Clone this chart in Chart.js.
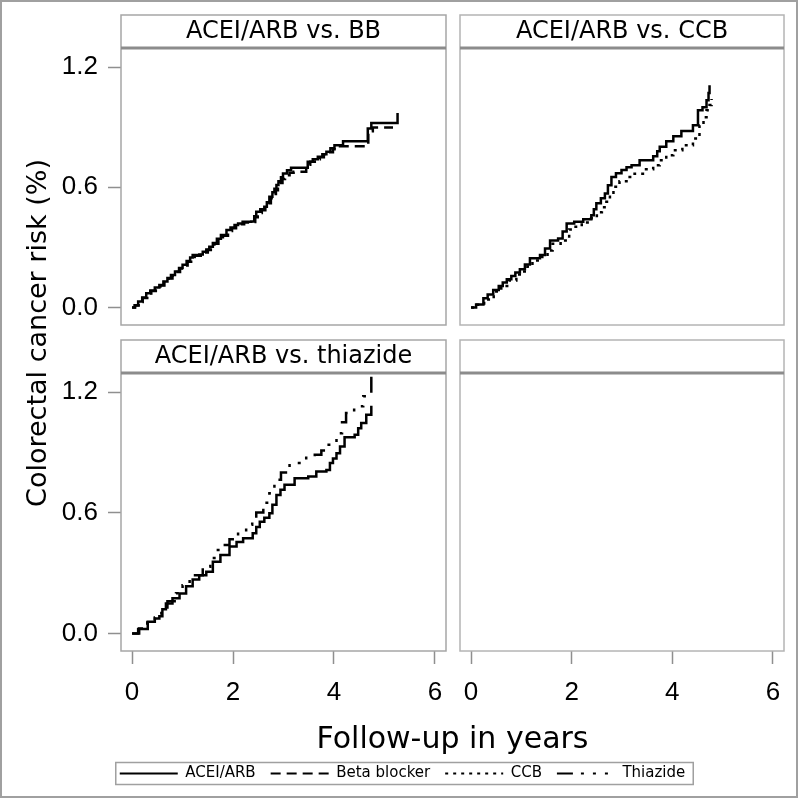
<!DOCTYPE html>
<html>
<head>
<meta charset="utf-8">
<script src="https://cdn.jsdelivr.net/npm/chart.js@4.4.1/dist/chart.umd.min.js"></script>
<style>
  html, body { margin: 0; padding: 0; background: #fff; }
  #wrap { position: relative; width: 800px; height: 800px; }
  canvas { position: absolute; }
</style>
</head>
<body>
<div id="wrap">
  <canvas id="frame" width="800" height="800" style="left:0;top:0"></canvas>
  <canvas id="p0" width="449" height="330" style="left:0;top:0"></canvas>
  <canvas id="p1" width="338" height="330" style="left:449px;top:0"></canvas>
  <canvas id="p2" width="449" height="390" style="left:0;top:330px"></canvas>
  <canvas id="p3" width="338" height="390" style="left:449px;top:330px"></canvas>
</div>
<script>
const FONT = 'DejaVu Sans';
const TICK_FONT = 'Liberation Sans';
Chart.defaults.font.family = FONT;
Chart.defaults.color = '#000';

const panelTitles = ['ACEI/ARB vs. BB', 'ACEI/ARB vs. CCB', 'ACEI/ARB vs. thiazide', ''];
const seriesNames = ['ACEI/ARB', 'Beta blocker', 'CCB', 'Thiazide'];
const seriesDash = [[], [10, 6], [3, 5], [16, 8, 3, 9, 3, 9, 3, 9]];
const xTicks = [0, 2, 4, 6];
const yTicks = [0, 0.6, 1.2];

// ACEI/ARB vs. BB
const bbArbT = [0, 0.05, 0.12, 0.2, 0.28, 0.36, 0.45, 0.54, 0.62, 0.7, 0.77, 0.85, 0.93, 1.0, 1.08, 1.15, 1.2, 1.33, 1.4, 1.47, 1.53, 1.6, 1.68, 1.76, 1.87, 1.95, 2.03, 2.1, 2.19, 2.36, 2.42, 2.46, 2.54, 2.62, 2.67, 2.72, 2.78, 2.82, 2.86, 2.9, 2.95, 2.99, 3.07, 3.15, 3.48, 3.58, 3.68, 3.77, 3.85, 3.93, 4.01, 4.18, 4.67, 4.74, 5.26];
const bbArbV = [0, 0.012, 0.03, 0.05, 0.072, 0.085, 0.1, 0.113, 0.13, 0.148, 0.163, 0.18, 0.198, 0.213, 0.232, 0.25, 0.262, 0.265, 0.278, 0.29, 0.304, 0.322, 0.343, 0.362, 0.387, 0.4, 0.412, 0.42, 0.428, 0.43, 0.455, 0.478, 0.49, 0.503, 0.525, 0.553, 0.575, 0.593, 0.611, 0.63, 0.65, 0.669, 0.685, 0.697, 0.727, 0.74, 0.752, 0.765, 0.777, 0.795, 0.81, 0.83, 0.893, 0.921, 0.971];
const bbT = [0, 0.06, 0.13, 0.21, 0.3, 0.38, 0.47, 0.56, 0.64, 0.72, 0.8, 0.88, 0.95, 1.03, 1.1, 1.17, 1.24, 1.36, 1.43, 1.5, 1.56, 1.63, 1.71, 1.8, 1.9, 1.98, 2.06, 2.14, 2.22, 2.38, 2.44, 2.49, 2.57, 2.64, 2.7, 2.75, 2.8, 2.85, 2.89, 2.93, 2.98, 3.03, 3.12, 3.2, 3.45, 3.53, 3.62, 3.72, 3.8, 3.9, 3.98, 4.08, 4.68, 4.77, 5.17];
const bbV = [0, 0.01, 0.028, 0.048, 0.07, 0.083, 0.098, 0.11, 0.127, 0.145, 0.16, 0.178, 0.195, 0.21, 0.228, 0.246, 0.258, 0.262, 0.275, 0.287, 0.3, 0.318, 0.338, 0.358, 0.382, 0.396, 0.408, 0.416, 0.424, 0.427, 0.45, 0.472, 0.485, 0.498, 0.52, 0.545, 0.567, 0.585, 0.603, 0.622, 0.642, 0.66, 0.672, 0.677, 0.712, 0.728, 0.74, 0.75, 0.762, 0.775, 0.79, 0.805, 0.88, 0.898, 0.898];

// ACEI/ARB vs. CCB
const ccbArbT = [0, 0.1, 0.245, 0.33, 0.44, 0.55, 0.63, 0.71, 0.8, 0.88, 0.97, 1.07, 1.17, 1.37, 1.47, 1.57, 1.73, 1.82, 1.9, 2.05, 2.23, 2.39, 2.44, 2.49, 2.58, 2.66, 2.72, 2.79, 2.88, 2.99, 3.09, 3.19, 3.35, 3.62, 3.7, 3.75, 3.88, 4.02, 4.18, 4.41, 4.51, 4.6, 4.68, 4.72, 4.74];
const ccbArbV = [0, 0.015, 0.046, 0.065, 0.088, 0.108, 0.125, 0.141, 0.158, 0.175, 0.191, 0.215, 0.246, 0.262, 0.295, 0.334, 0.345, 0.38, 0.42, 0.428, 0.44, 0.461, 0.49, 0.52, 0.545, 0.569, 0.61, 0.652, 0.67, 0.686, 0.7, 0.71, 0.735, 0.755, 0.78, 0.802, 0.83, 0.855, 0.881, 0.91, 0.984, 1.0, 1.034, 1.07, 1.109];
const ccbT = [0, 0.12, 0.26, 0.45, 0.6, 0.75, 0.9, 1.0, 1.12, 1.22, 1.4, 1.52, 1.62, 1.78, 1.95, 2.03, 2.2, 2.36, 2.5, 2.6, 2.69, 2.76, 2.83, 2.95, 3.09, 3.25, 3.45, 3.62, 3.75, 3.88, 4.02, 4.2, 4.41, 4.54, 4.62, 4.68, 4.74, 4.78];
const ccbV = [0, 0.014, 0.04, 0.08, 0.108, 0.135, 0.165, 0.18, 0.205, 0.235, 0.252, 0.285, 0.318, 0.335, 0.39, 0.403, 0.425, 0.445, 0.475, 0.5, 0.528, 0.565, 0.603, 0.63, 0.652, 0.668, 0.69, 0.71, 0.735, 0.76, 0.785, 0.81, 0.843, 0.91, 0.95, 0.984, 1.01, 1.04];

// ACEI/ARB vs. thiazide
const thzArbT = [0, 0.12, 0.31, 0.45, 0.54, 0.6, 0.67, 0.8, 0.94, 1.07, 1.2, 1.33, 1.47, 1.6, 1.75, 1.93, 2.07, 2.2, 2.39, 2.46, 2.53, 2.62, 2.72, 2.78, 2.86, 2.94, 3.02, 3.22, 3.49, 3.65, 3.85, 3.92, 3.98, 4.05, 4.12, 4.21, 4.41, 4.48, 4.54, 4.64, 4.74];
const thzArbV = [0, 0.022, 0.058, 0.075, 0.086, 0.12, 0.149, 0.175, 0.199, 0.235, 0.269, 0.29, 0.307, 0.357, 0.39, 0.432, 0.455, 0.473, 0.498, 0.53, 0.556, 0.575, 0.598, 0.64, 0.689, 0.715, 0.739, 0.772, 0.78, 0.805, 0.813, 0.847, 0.87, 0.896, 0.93, 0.976, 0.988, 1.02, 1.046, 1.087, 1.132];
const thzT = [0, 0.14, 0.3, 0.45, 0.58, 0.7, 0.87, 1.0, 1.14, 1.4, 1.55, 1.67, 1.8, 1.93, 2.1, 2.26, 2.38, 2.46, 2.6, 2.72, 2.82, 2.95, 3.12, 3.45, 3.62, 3.75, 3.85, 4.05, 4.16, 4.24, 4.4, 4.58, 4.74];
const thzV = [0, 0.025, 0.055, 0.08, 0.12, 0.16, 0.2, 0.24, 0.29, 0.332, 0.375, 0.415, 0.44, 0.468, 0.505, 0.54, 0.575, 0.601, 0.65, 0.697, 0.764, 0.8, 0.847, 0.88, 0.888, 0.91, 0.938, 0.996, 1.05, 1.096, 1.13, 1.179, 1.278];

function pts(t, v) {
  return t.map((x, i) => ({ x: x, y: v[i] }));
}

function series(k, t, v) {
  return {
    label: seriesNames[k],
    data: pts(t, v),
    borderColor: '#000',
    borderWidth: 2.5,
    borderDash: seriesDash[k],
    stepped: 'before',
    pointRadius: 0,
    fill: false
  };
}

// header box + plot frame around every panel
function panelFrame(color) {
  return {
    id: 'panelFrame',
    afterDraw(chart) {
      const ctx = chart.ctx;
      const a = chart.chartArea;
      const top = chart.titleBlock.top;
      ctx.save();
      ctx.strokeStyle = color;
      ctx.lineWidth = 1.5;
      ctx.strokeRect(a.left, top, a.right - a.left, a.bottom - top);
      ctx.strokeStyle = '#8c8c8c';
      ctx.lineWidth = 3;
      ctx.beginPath();
      ctx.moveTo(a.left, a.top);
      ctx.lineTo(a.right, a.top);
      ctx.stroke();
      ctx.restore();
    }
  };
}

function panel(id, title, sets, showX, showY, pad, frameColor) {
  return new Chart(document.getElementById(id), {
    type: 'line',
    data: { datasets: sets },
    options: {
      responsive: false,
      animation: false,
      layout: { padding: pad },
      scales: {
        x: {
          type: 'linear',
          min: -0.22,
          max: 6.22,
          display: showX,
          afterBuildTicks: s => { s.ticks = xTicks.map(v => ({ value: v })); },
          afterFit: s => {
            if (showX) s.height = 69;
            s.paddingLeft = 0;
            s.paddingRight = 0;
          },
          grid: { drawOnChartArea: false, tickLength: 13, tickColor: '#8f8f8f', tickWidth: 1.5 },
          border: { display: false },
          ticks: { font: { family: TICK_FONT, size: 26 }, padding: 13, maxRotation: 0, autoSkip: false }
        },
        y: {
          type: 'linear',
          min: -0.087,
          max: 1.295,
          display: showY,
          afterBuildTicks: s => { s.ticks = yTicks.map(v => ({ value: v })); },
          afterFit: s => {
            if (showY) s.width = 121;
            s.paddingTop = 0;
            s.paddingBottom = 0;
          },
          grid: { drawOnChartArea: false, tickLength: 13, tickColor: '#8f8f8f', tickWidth: 1.5 },
          border: { display: false },
          ticks: { font: { family: TICK_FONT, size: 26 }, padding: 10, callback: v => v.toFixed(1) }
        }
      },
      plugins: {
        legend: { display: false },
        tooltip: { enabled: false },
        title: {
          display: true,
          text: title,
          fullSize: false,
          color: '#000',
          font: { size: 24, weight: 'normal' },
          padding: { top: 2, bottom: 2.2 }
        }
      }
    },
    plugins: [panelFrame(frameColor)]
  });
}

panel('p0', panelTitles[0], [series(0, bbArbT, bbArbV), series(1, bbT, bbV)], false, true,
  { top: 15, right: 3, bottom: 5, left: 0 }, '#a6a6a6');
panel('p1', panelTitles[1], [series(0, ccbArbT, ccbArbV), series(2, ccbT, ccbV)], false, false,
  { top: 15, right: 3, bottom: 5, left: 11 }, '#b4b4b4');
panel('p2', panelTitles[2], [series(0, thzArbT, thzArbV), series(3, thzT, thzV)], true, true,
  { top: 10, right: 3, bottom: 0, left: 0 }, '#a6a6a6');
panel('p3', panelTitles[3], [], true, false,
  { top: 10, right: 3, bottom: 0, left: 11 }, '#b4b4b4');

// outer border and legend border
const frameLines = {
  id: 'frameLines',
  afterDraw(chart) {
    const ctx = chart.ctx;
    ctx.save();
    ctx.strokeStyle = '#a0a0a0';
    ctx.lineWidth = 2;
    ctx.strokeRect(1, 1, 796, 796);
    const hb = chart.legend.legendHitBoxes;
    if (hb && hb.length) {
      const l = Math.min(...hb.map(h => h.left)) - 4;
      const r = Math.max(...hb.map(h => h.left + h.width)) + 8;
      ctx.lineWidth = 1.5;
      ctx.strokeRect(l, hb[0].top - 3.5, r - l, hb[0].height + 7);
    }
    ctx.restore();
  }
};

new Chart(document.getElementById('frame'), {
  type: 'line',
  data: {
    datasets: seriesNames.map((n, i) => ({
      label: n,
      data: [],
      borderColor: '#000',
      borderWidth: 2,
      borderDash: seriesDash[i]
    }))
  },
  options: {
    responsive: false,
    animation: false,
    layout: { padding: { top: 15, right: 0, bottom: 9, left: 5 } },
    scales: {
      x: {
        type: 'linear',
        ticks: { display: false },
        grid: { display: false },
        border: { display: false },
        title: { display: true, text: 'Follow-up in years', color: '#000', font: { size: 30 }, padding: { top: 0, bottom: -7 } },
        afterFit: s => { s.height = s.chart.height - 9 - s.chart.legend.height - 651; }
      },
      y: {
        type: 'linear',
        ticks: { display: false },
        grid: { display: false },
        border: { display: false },
        title: { display: true, text: 'Colorectal cancer risk (%)', color: '#000', font: { size: 27 }, padding: { top: 18, bottom: 0 } },
        afterFit: s => { s.width = 116; }
      },
      yR: {
        type: 'linear',
        position: 'right',
        ticks: { display: false },
        grid: { display: false },
        border: { display: false },
        afterFit: s => { s.width = 16; }
      }
    },
    plugins: {
      tooltip: { enabled: false },
      legend: {
        position: 'bottom',
        labels: {
          usePointStyle: true,
          pointStyleWidth: 58,
          color: '#000',
          font: { size: 15 },
          padding: 15,
          generateLabels: chart => Chart.defaults.plugins.legend.labels.generateLabels(chart).map((it, i) => ({
            ...it,
            pointStyle: 'line',
            lineDash: seriesDash[i],
            lineWidth: 2,
            strokeStyle: '#000',
            fillStyle: '#000'
          }))
        }
      }
    }
  },
  plugins: [frameLines]
});
</script>
</body>
</html>
